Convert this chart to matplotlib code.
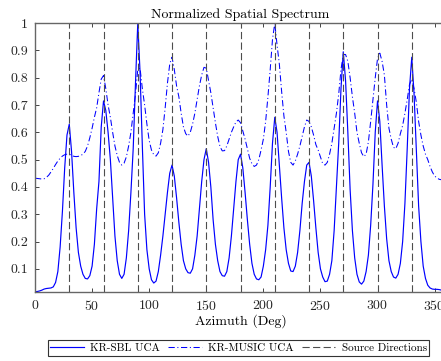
import numpy as np
import matplotlib
matplotlib.use('Agg')
import matplotlib.pyplot as plt
from matplotlib import ticker as mticker

plt.rcParams['font.family'] = 'cmr10'
plt.rcParams['axes.formatter.use_mathtext'] = True

# azimuth grid of the scan (deg)
azimuth = np.arange(0, 361, 2)

# true source directions (deg)
sources = [30, 60, 90, 120, 150, 180, 210, 240, 270, 300, 330]

# normalized spectrum, KR-SBL on the UCA
p_sbl = [
    0.016, 0.017, 0.019, 0.022, 0.026, 0.028, 0.029, 0.030, 0.034, 0.050,
    0.090, 0.180, 0.310, 0.470, 0.590, 0.630, 0.530, 0.380, 0.250, 0.160,
    0.110, 0.080, 0.065, 0.063, 0.075, 0.110, 0.190, 0.320, 0.420, 0.620,
    0.715, 0.680, 0.600, 0.500, 0.360, 0.220, 0.130, 0.080, 0.065, 0.080,
    0.140, 0.240, 0.380, 0.540, 0.780, 1.000, 0.820, 0.550, 0.300, 0.170,
    0.100, 0.060, 0.048, 0.055, 0.090, 0.150, 0.220, 0.300, 0.380, 0.450,
    0.480, 0.440, 0.360, 0.270, 0.190, 0.130, 0.100, 0.086, 0.084, 0.100,
    0.150, 0.220, 0.320, 0.420, 0.500, 0.540, 0.490, 0.400, 0.280, 0.190,
    0.130, 0.090, 0.075, 0.073, 0.090, 0.140, 0.220, 0.320, 0.420, 0.500,
    0.520, 0.470, 0.380, 0.280, 0.190, 0.120, 0.080, 0.063, 0.060, 0.070,
    0.110, 0.170, 0.260, 0.400, 0.560, 0.655, 0.600, 0.480, 0.360, 0.250,
    0.170, 0.120, 0.092, 0.090, 0.110, 0.160, 0.240, 0.340, 0.420, 0.480,
    0.490, 0.440, 0.350, 0.250, 0.160, 0.100, 0.070, 0.053, 0.055, 0.080,
    0.130, 0.240, 0.400, 0.560, 0.760, 0.895, 0.790, 0.600, 0.390, 0.240,
    0.140, 0.080, 0.052, 0.044, 0.055, 0.090, 0.150, 0.260, 0.410, 0.600,
    0.715, 0.640, 0.480, 0.330, 0.210, 0.130, 0.090, 0.070, 0.066, 0.080,
    0.120, 0.200, 0.340, 0.540, 0.760, 0.875, 0.740, 0.530, 0.330, 0.200,
    0.110, 0.065, 0.040, 0.030, 0.026, 0.025, 0.025, 0.024, 0.022, 0.020,
    0.018,
]

# normalized spectrum, KR-MUSIC on the UCA
p_music = [
    0.432, 0.431, 0.430, 0.429, 0.430, 0.435, 0.443, 0.455, 0.468, 0.482,
    0.495, 0.505, 0.513, 0.518, 0.520, 0.520, 0.516, 0.512, 0.511, 0.512,
    0.515, 0.520, 0.530, 0.550, 0.580, 0.615, 0.655, 0.690, 0.745, 0.795,
    0.808, 0.760, 0.700, 0.655, 0.600, 0.550, 0.515, 0.490, 0.480, 0.487,
    0.510, 0.550, 0.600, 0.670, 0.740, 0.830, 0.835, 0.760, 0.700, 0.630,
    0.570, 0.535, 0.518, 0.513, 0.525, 0.560, 0.610, 0.690, 0.780, 0.850,
    0.875, 0.830, 0.770, 0.730, 0.670, 0.620, 0.595, 0.586, 0.600, 0.630,
    0.670, 0.720, 0.770, 0.810, 0.838, 0.835, 0.790, 0.745, 0.690, 0.635,
    0.585, 0.548, 0.532, 0.533, 0.550, 0.575, 0.600, 0.620, 0.638, 0.645,
    0.635, 0.605, 0.575, 0.540, 0.505, 0.485, 0.475, 0.480, 0.500, 0.535,
    0.575, 0.640, 0.730, 0.830, 0.940, 1.000, 0.920, 0.850, 0.750, 0.660,
    0.600, 0.530, 0.490, 0.480, 0.495, 0.520, 0.550, 0.585, 0.620, 0.645,
    0.640, 0.620, 0.590, 0.555, 0.535, 0.510, 0.485, 0.480, 0.490, 0.520,
    0.560, 0.615, 0.670, 0.740, 0.830, 0.885, 0.885, 0.860, 0.800, 0.730,
    0.670, 0.600, 0.560, 0.525, 0.511, 0.520, 0.565, 0.640, 0.720, 0.800,
    0.870, 0.890, 0.860, 0.810, 0.700, 0.615, 0.575, 0.545, 0.540, 0.560,
    0.595, 0.625, 0.670, 0.720, 0.775, 0.795, 0.760, 0.710, 0.640, 0.590,
    0.550, 0.520, 0.500, 0.475, 0.455, 0.440, 0.433, 0.428, 0.426, 0.425,
    0.425,
]

xticks = [0, 50, 100, 150, 200, 250, 300, 350]
yticks = [0.1, 0.2, 0.3, 0.4, 0.5, 0.6, 0.7, 0.8, 0.9, 1.0]

fig = plt.figure(figsize=(4.41, 3.61), dpi=100)
ax = fig.add_axes([0.0794, 0.191, 0.932, 0.745])

l1, = ax.plot(azimuth, p_sbl, '-', color='b', lw=0.85, label='KR-SBL UCA')
l2, = ax.plot(azimuth, p_music, color='b', lw=0.75, ls=(0, (6, 2.5, 1, 2.5)),
              label='KR-MUSIC UCA')
src_lines = [ax.axvline(s, color='0.3', lw=0.8, ls=(0, (6.5, 3)))
             for s in sources]
l3 = src_lines[0]
l3.set_label('Source Directions')

ax.set_xlim(0, 360)
ax.set_ylim(0.015, 1.0)
ax.set_xticks(xticks)
ax.set_yticks(yticks)
ax.yaxis.set_major_formatter(mticker.FuncFormatter(lambda v, p: '{:g}'.format(v)))
ax.tick_params(which='both', direction='in', length=3, width=0.6,
               top=True, right=True, labelsize=10, colors='0.15', pad=5)
for sp in ax.spines.values():
    sp.set_color('0.4')
    sp.set_linewidth(1.0)

ax.set_title('Normalized Spatial Spectrum', fontsize=10, pad=4)
ax.set_xlabel('Azimuth (Deg)', fontsize=10, labelpad=1)

leg = fig.legend(handles=[l1, l2, l3], loc='center', ncol=3,
                 bbox_to_anchor=(0.541, 0.036), bbox_transform=fig.transFigure,
                 fontsize=8, frameon=True, fancybox=False, framealpha=1,
                 edgecolor='0.2', handlelength=3.05, handletextpad=0.55,
                 columnspacing=0.7, borderpad=0.25)
leg.get_frame().set_linewidth(0.8)

fig.savefig('out.png', dpi=100)
